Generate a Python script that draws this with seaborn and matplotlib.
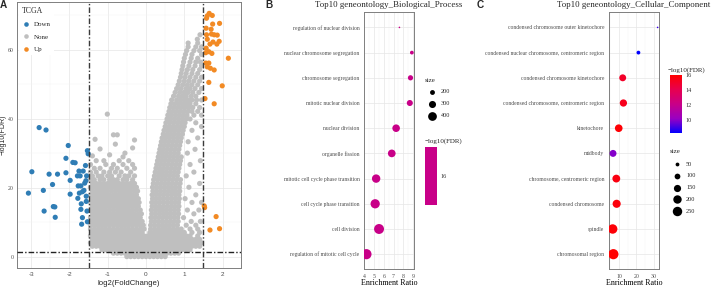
import numpy as np
import pandas as pd
import matplotlib
matplotlib.use("Agg")
import matplotlib.pyplot as plt
import seaborn as sns
from matplotlib.colors import LinearSegmentedColormap, ListedColormap, Normalize
from matplotlib.cm import ScalarMappable

# ---------------- panel A: volcano (TCGA) ----------------
down_pts = [(-2.79, 37.4), (-2.61, 36.7), (-2.03, 32.2), (-1.53, 30.7), (-1.51, 29.8),
            (-2.09, 28.5), (-1.91, 27.3), (-1.85, 27.2), (-2.98, 24.6), (-2.53, 23.9),
            (-2.31, 23.9), (-2.09, 24.3), (-1.75, 24.8), (-1.64, 24.8), (-1.98, 22.1),
            (-1.79, 23.4), (-1.72, 23.4), (-1.55, 23.4), (-2.44, 20.9), (-1.77, 20.5),
            (-1.70, 20.5), (-1.57, 22.0), (-2.68, 19.2), (-3.07, 18.4), (-1.98, 18.1),
            (-1.74, 18.4), (-1.66, 18.8), (-1.62, 19.2), (-1.78, 16.9), (-1.56, 17.5),
            (-2.42, 14.5), (-2.38, 14.4), (-1.69, 15.3), (-1.56, 16.0), (-2.66, 13.2),
            (-1.70, 13.7), (-1.54, 13.2), (-2.37, 11.4), (-1.66, 11.3), (-1.68, 9.4),
            (-1.53, 10.1), (-1.58, 26.4), (-1.60, 21.3)]

up_pts = [(1.65, 70.5), (1.60, 69.8), (1.73, 69.9), (1.58, 69.1), (1.74, 67.4), (1.92, 67.6),
          (1.57, 66.2), (1.70, 65.9), (1.58, 64.3), (1.71, 64.5), (1.78, 64.3), (1.86, 64.2),
          (1.60, 63.0), (1.75, 62.2), (1.91, 62.4), (1.67, 61.6), (1.85, 61.6), (1.57, 60.4),
          (1.56, 59.1), (1.64, 59.4), (1.72, 58.9), (2.15, 57.5), (1.56, 56.1), (1.64, 56.1),
          (1.60, 55.0), (1.68, 54.6), (1.78, 54.1), (1.64, 50.5), (1.99, 49.5), (1.54, 45.8),
          (1.78, 44.3), (1.52, 14.7), (1.53, 14.2), (1.83, 11.6), (1.67, 7.7), (1.92, 8.1)]

# non-significant genes, read row by row off the grey cloud (y, [x ...])
none_rows = [
    (0.0, [-0.5, -0.4, -0.3, -0.2, -0.1, 0.0, 0.1, 0.2, 0.3, 0.4, 0.5]),
    (1.0, [-0.85, -0.75, -0.65, -0.55, -0.45, -0.35, -0.25, -0.15, -0.05, 0.05, 0.15, 0.25,
           0.35, 0.45, 0.55, 0.65, 0.75, 0.85]),
    (2.0, [-1.15, -1.05, -0.95, -0.85, -0.75, -0.65, -0.55, -0.45, -0.35, -0.25, -0.15, -0.05,
           0.05, 0.15, 0.25, 0.35, 0.45, 0.55, 0.65, 0.75, 0.85, 0.95, 1.05, 1.15]),
    (3.0, [-1.4, -1.3, -1.2, -1.1, -1.0, -0.9, -0.8, -0.7, -0.6, -0.5, -0.4, -0.3, -0.2, -0.1,
           0.0, 0.1, 0.2, 0.3, 0.4, 0.5, 0.6, 0.7, 0.8, 0.9, 1.0, 1.1, 1.2, 1.3, 1.4]),
    (4.0, [-1.45, -1.35, -1.25, -1.15, -1.05, -0.95, -0.85, -0.75, -0.65, -0.55, -0.45, -0.35,
           -0.25, -0.15, -0.05, 0.05, 0.15, 0.25, 0.35, 0.45, 0.55, 0.65, 0.75, 0.85, 0.95,
           1.05, 1.15, 1.25, 1.35, 1.45]),
    (5.0, [-1.4, -1.3, -1.2, -1.1, -1.0, -0.9, -0.8, -0.7, -0.6, -0.5, -0.4, -0.3, -0.2, -0.1,
           0.0, 0.1, 0.2, 0.3, 0.4, 0.5, 0.6, 0.7, 0.8, 0.9, 1.0, 1.1, 1.2, 1.3, 1.4]),
    (6.0, [-1.45, -1.35, -1.25, -1.15, -1.05, -0.95, -0.85, -0.75, -0.65, -0.55, -0.45, -0.35,
           -0.25, -0.15, -0.05, 0.05, 0.15, 0.25, 0.35, 0.45, 0.55, 0.65, 0.75, 0.85, 0.95,
           1.05, 1.15, 1.35]),
    (7.0, [-1.4, -1.3, -1.2, -1.1, -1.0, -0.9, -0.8, -0.7, -0.6, -0.5, -0.4, -0.3, -0.2, -0.1,
           0.1, 0.2, 0.3, 0.4, 0.5, 0.6, 0.7, 0.8, 0.9, 1.0, 1.2, 1.4]),
    (8.0, [-1.45, -1.35, -1.25, -1.15, -1.05, -0.95, -0.85, -0.75, -0.65, -0.55, -0.45, -0.35,
           -0.25, -0.15, -0.05, 0.12, 0.22, 0.32, 0.42, 0.52, 0.62, 0.72, 0.82, 0.92, 1.15, 1.35]),
    (9.1, [-1.45, -1.35, -1.25, -1.15, -1.05, -0.95, -0.85, -0.75, -0.65, -0.55, -0.45, -0.35,
           -0.25, -0.15, -0.07, 0.12, 0.22, 0.32, 0.42, 0.52, 0.62, 0.72, 0.82, 1.05, 1.3]),
    (10.2, [-1.4, -1.3, -1.2, -1.1, -1.0, -0.9, -0.8, -0.7, -0.6, -0.5, -0.4, -0.3, -0.2, -0.1,
            0.14, 0.24, 0.34, 0.44, 0.54, 0.64, 0.74, 0.84, 1.18, 1.42]),
    (11.3, [-1.45, -1.35, -1.25, -1.15, -1.05, -0.95, -0.85, -0.75, -0.65, -0.55, -0.45, -0.35,
            -0.25, -0.15, 0.13, 0.23, 0.33, 0.43, 0.53, 0.63, 0.73, 0.83, 0.98]),
    (12.4, [-1.4, -1.3, -1.2, -1.1, -1.0, -0.9, -0.8, -0.7, -0.6, -0.5, -0.4, -0.3, -0.2, -0.12,
            0.15, 0.25, 0.35, 0.45, 0.55, 0.65, 0.75, 0.85, 1.25]),
    (13.5, [-1.45, -1.35, -1.25, -1.15, -1.05, -0.95, -0.85, -0.75, -0.65, -0.55, -0.45, -0.35,
            -0.25, -0.15, 0.14, 0.24, 0.34, 0.44, 0.54, 0.64, 0.74, 0.84, 1.08, 1.38]),
    (14.6, [-1.4, -1.3, -1.2, -1.1, -1.0, -0.9, -0.8, -0.7, -0.6, -0.5, -0.4, -0.3, -0.2,
            0.16, 0.26, 0.36, 0.46, 0.56, 0.66, 0.76, 0.86]),
    (15.7, [-1.45, -1.35, -1.25, -1.15, -1.05, -0.95, -0.85, -0.75, -0.65, -0.55, -0.45, -0.35,
            -0.25, -0.18, 0.15, 0.25, 0.35, 0.45, 0.55, 0.65, 0.75, 0.85, 1.2, 1.45]),
    (16.8, [-1.4, -1.3, -1.2, -1.1, -1.0, -0.9, -0.8, -0.7, -0.6, -0.5, -0.4, -0.3, -0.2,
            0.17, 0.27, 0.37, 0.47, 0.57, 0.67, 0.77, 0.87, 1.02]),
    (17.9, [-1.45, -1.35, -1.25, -1.15, -1.05, -0.95, -0.85, -0.75, -0.65, -0.55, -0.45, -0.35,
            -0.25, 0.16, 0.26, 0.36, 0.46, 0.56, 0.66, 0.76, 0.86, 1.3]),
    (19.0, [-1.4, -1.3, -1.2, -1.1, -1.0, -0.9, -0.8, -0.7, -0.6, -0.5, -0.4, -0.3, -0.22,
            0.18, 0.28, 0.38, 0.48, 0.58, 0.68, 0.78, 0.88]),
    (20.1, [-1.45, -1.35, -1.25, -1.15, -1.05, -0.95, -0.85, -0.75, -0.65, -0.55, -0.45, -0.35,
            -0.25, 0.17, 0.27, 0.37, 0.47, 0.57, 0.67, 0.77, 0.87, 1.12]),
    (21.2, [-1.4, -1.3, -1.2, -1.1, -1.0, -0.9, -0.8, -0.7, -0.6, -0.5, -0.4, -0.3,
            0.19, 0.29, 0.39, 0.49, 0.59, 0.69, 0.79, 0.89, 1.4]),
    (22.3, [-1.45, -1.35, -1.2, -1.1, -0.95, -0.85, -0.75, -0.6, -0.5, -0.35,
            0.2, 0.3, 0.4, 0.5, 0.6, 0.7, 0.8, 0.9]),
    (23.4, [-1.4, -1.25, -1.15, -1.0, -0.9, -0.7, -0.55, -0.45, -0.3,
            0.22, 0.32, 0.42, 0.52, 0.62, 0.72, 0.82, 1.05]),
    (24.5, [-1.45, -1.3, -1.1, -0.95, -0.8, -0.65, -0.4,
            0.24, 0.34, 0.44, 0.54, 0.64, 0.74, 0.84, 1.25]),
    (25.6, [-1.35, -1.2, -0.9, -0.75, -0.5, -0.3, 0.26, 0.36, 0.46, 0.56, 0.66, 0.76, 0.86]),
    (26.7, [-1.45, -1.05, -0.85, -0.6, -0.35, 0.28, 0.38, 0.48, 0.58, 0.68, 0.78, 0.88, 1.15]),
    (27.8, [-1.3, -1.1, -0.7, -0.45, 0.3, 0.4, 0.5, 0.6, 0.7, 0.8, 0.9, 1.42]),
    (28.9, [-0.6, 0.32, 0.42, 0.52, 0.62, 0.72, 0.82, 0.92]),
    (30.0, [0.34, 0.44, 0.54, 0.64, 0.74, 0.84, 1.08]),
    (31.1, [0.36, 0.46, 0.56, 0.66, 0.76, 0.86, 1.28]),
    (32.2, [0.38, 0.48, 0.58, 0.68, 0.78, 0.88]),
    (33.3, [0.4, 0.5, 0.6, 0.7, 0.8, 0.9, 1.1]),
    (34.4, [0.42, 0.52, 0.62, 0.72, 0.82, 0.92, 1.35]),
    (35.5, [0.45, 0.55, 0.65, 0.75, 0.85, 0.95]),
    (36.6, [0.47, 0.57, 0.67, 0.77, 0.87, 0.97, 1.2]),
    (37.7, [0.5, 0.6, 0.7, 0.8, 0.9, 1.0, 1.45]),
    (38.8, [0.52, 0.62, 0.72, 0.82, 0.92, 1.02, 1.3]),
    (39.9, [0.55, 0.65, 0.75, 0.85, 0.95, 1.05, 1.15]),
    (41.0, [0.57, 0.67, 0.77, 0.87, 0.97, 1.07, 1.25, 1.45]),
    (42.1, [0.6, 0.7, 0.8, 0.9, 1.0, 1.1, 1.2, 1.35]),
    (43.2, [0.62, 0.72, 0.82, 0.92, 1.02, 1.12, 1.22, 1.4]),
    (44.3, [0.65, 0.75, 0.85, 0.95, 1.05, 1.15, 1.3]),
    (45.4, [0.67, 0.8, 0.9, 1.0, 1.1, 1.2, 1.32, 1.45]),
    (46.5, [0.72, 0.85, 0.95, 1.05, 1.18, 1.3]),
    (47.6, [0.76, 0.88, 1.0, 1.1, 1.22, 1.38]),
    (48.7, [0.8, 0.92, 1.05, 1.15, 1.28, 1.45]),
    (49.8, [0.84, 0.96, 1.08, 1.2, 1.35]),
    (50.9, [0.87, 1.0, 1.12, 1.25, 1.4]),
    (52.0, [0.9, 1.02, 1.15, 1.3, 1.45]),
    (53.1, [0.92, 1.05, 1.2, 1.35]),
    (54.2, [0.94, 1.08, 1.22, 1.4]),
    (55.3, [0.96, 1.12, 1.28, 1.45]),
    (56.4, [0.98, 1.15, 1.3, 1.42]),
    (57.5, [1.0, 1.18, 1.35]),
    (58.6, [1.03, 1.2, 1.45]),
    (59.7, [1.06, 1.25, 1.4]),
    (60.8, [1.1, 1.3, 1.45]),
    (61.9, [1.1, 1.35]),
    (63.0, [1.34]),
    (64.3, [1.41]),
]
none_extra = [(-1.4, 29.2), (-0.95, 29.5), (-0.55, 30.0), (-1.2, 31.2), (-0.35, 31.5),
              (-0.8, 32.6), (-1.33, 34.0), (-0.85, 35.3), (-0.75, 35.3), (-1.01, 41.3),
              (-0.3, 33.8)]

tcga_colors = {"Down": "#2f7db5", "None": "#bfbfbf", "Up": "#f28a24"}
fc_cut = 1.5
fdr_line = 1.3

# ---------------- panel B: GO biological process ----------------
bp_terms = ["regulation of nuclear division", "nuclear chromosome segregation",
            "chromosome segregation", "mitotic nuclear division", "nuclear division",
            "organelle fission", "mitotic cell cycle phase transition",
            "cell cycle phase transition", "cell division", "regulation of mitotic cell cycle"]
bp_ratio = [7.6, 8.88, 8.74, 8.67, 7.26, 6.81, 5.2, 5.1, 5.5, 4.2]
bp_size = [120, 164, 214, 249, 328, 335, 378, 435, 486, 505]
bp_fdr = [16.0, 16.0, 16.0, 16.0, 16.0, 16.0, 16.0, 16.0, 16.0, 16.0]
bp_size_breaks = [200, 300, 400]

# ---------------- panel C: GO cellular component ----------------
cc_terms = ["condensed chromosome outer kinetochore",
            "condensed nuclear chromosome, centromeric region",
            "condensed chromosome kinetochore", "condensed chromosome, centromeric region",
            "kinetochore", "midbody", "chromosome, centromeric region",
            "condensed chromosome", "spindle", "chromosomal region"]
cc_ratio = [32.3, 21.2, 12.1, 12.5, 9.8, 6.5, 8.4, 8.6, 6.3, 6.7]
cc_size = [18, 50, 140, 153, 168, 140, 175, 188, 250, 290]
cc_fdr = [9.0, 8.2, 15.0, 15.3, 15.9, 9.9, 15.6, 15.7, 15.8, 16.0]
cc_size_breaks = [50, 100, 150, 200, 250]
cc_fdr_breaks = [10, 12, 14, 16]

# ---------------- style ----------------
SERIF = ["Liberation Serif", "DejaVu Serif"]
SANS = ["Liberation Sans", "DejaVu Sans"]
sns.set_theme(style="white")
plt.rcParams["font.family"] = SERIF
plt.rcParams["axes.unicode_minus"] = False

# ggplot-like blue -> red gradient (Lab interpolated stops)
br_cmap = LinearSegmentedColormap.from_list(
    "bluered", ["#0000FF", "#9900C2", "#C80088", "#E7004F", "#FF0000"])

W, H = 711, 287
fig = plt.figure(figsize=(W / 100, H / 100), dpi=100)


def box(l, t, r, b):
    return [l / W, 1 - b / H, (r - l) / W, (b - t) / H]


def style(ax):
    ax.set_facecolor("white")
    ax.set_axisbelow(True)
    for sp in ax.spines.values():
        sp.set_color("#7f7f7f")
        sp.set_linewidth(0.7)
    ax.grid(True, which="major", color="#e6e6e6", lw=0.5)
    ax.grid(True, which="minor", color="#f2f2f2", lw=0.3)
    ax.tick_params(which="major", length=2, width=0.5, color="#333333",
                   labelsize=4.2, labelcolor="#4d4d4d", pad=1.2)
    ax.tick_params(which="minor", length=0)


def dot_s(v, vmin, vmax, dmin=1.6, dmax=10.2):
    # linear area between the smallest and largest dot (pt^2)
    smin, smax = (dmin * 0.72) ** 2, (dmax * 0.72) ** 2
    return smin + (smax - smin) * (v - vmin) / (vmax - vmin)


# ---------------- panel A ----------------
none_x = [x for y, xs in none_rows for x in xs] + [p[0] for p in none_extra]
none_y = [y for y, xs in none_rows for x in xs] + [p[1] for p in none_extra]
volc = pd.concat([
    pd.DataFrame({"log2FC": none_x, "logFDR": none_y, "group": "None"}),
    pd.DataFrame({"log2FC": [p[0] for p in down_pts], "logFDR": [p[1] for p in down_pts], "group": "Down"}),
    pd.DataFrame({"log2FC": [p[0] for p in up_pts], "logFDR": [p[1] for p in up_pts], "group": "Up"}),
], ignore_index=True)

axA = fig.add_axes(box(17.3, 2, 241, 268))
style(axA)
sns.scatterplot(data=volc, x="log2FC", y="logFDR", hue="group", palette=tcga_colors,
                s=14, linewidth=0, legend=False, ax=axA, zorder=2)
dash = (0, (4, 1.5, 1, 1.5))
axA.axvline(-fc_cut, color="#3a3a3a", lw=1.0, ls=dash, zorder=3)
axA.axvline(fc_cut, color="#3a3a3a", lw=1.0, ls=dash, zorder=3)
axA.axhline(fdr_line, color="#222222", lw=1.0, ls=dash, zorder=3)
axA.set_xlim(-3.36, 2.48)
axA.set_ylim(-3.3, 73.8)
axA.set_xticks([-3, -2, -1, 0, 1, 2])
axA.set_xticks([-2.5, -1.5, -0.5, 0.5, 1.5], minor=True)
axA.set_yticks([0, 20, 40, 60])
axA.set_yticks([10, 30, 50, 70], minor=True)
axA.tick_params(axis="y", pad=0.8)
for lab in axA.get_xticklabels():
    lab.set_fontfamily(SANS)
    lab.set_fontsize(4.6)
axA.set_xlabel("log2(FoldChange)", family=SANS, fontsize=5.6, labelpad=1.5)
axA.set_ylabel("\u2212log10(FDR)", family=SANS, fontsize=5.0)
axA.yaxis.set_label_coords(-0.047, 0.5)

handles = [plt.Line2D([], [], ls="", marker="o", ms=3.3, mfc=tcga_colors[g], mec="none")
           for g in ["Down", "None", "Up"]]
leg = axA.legend(handles, ["Down", "None", "Up"], title="TCGA", loc="upper left",
                 bbox_to_anchor=(0.0, 1.0), frameon=True, fancybox=False, edgecolor="none",
                 facecolor="white", framealpha=1, fontsize=5, title_fontsize=5.6,
                 labelspacing=0.95, handletextpad=0.7, handlelength=1.0,
                 borderpad=0.45, borderaxespad=0.25)
leg._legend_box.align = "left"
leg.set_zorder(5)


# ---------------- dot plots ----------------
def dot_panel(rect, terms, ratio, size, fdr, cnorm, xlim, xmaj, xmin):
    ax = fig.add_axes(rect)
    style(ax)
    df = pd.DataFrame({"term": terms, "ratio": ratio, "size": size, "fdr": fdr})
    sns.scatterplot(data=df, x="ratio", y="term", size="size",
                    sizes=(dot_s(min(size), min(size), max(size)),
                           dot_s(max(size), min(size), max(size))),
                    size_norm=(min(size), max(size)), hue="fdr", palette=br_cmap,
                    hue_norm=cnorm, linewidth=0, legend=False, ax=ax, zorder=3)
    ax.set_xlim(*xlim)
    ax.set_ylim(len(terms) - 0.4, -0.6)
    ax.set_xticks(xmaj)
    ax.set_xticks(xmin, minor=True)
    ax.set_yticks(range(len(terms)))
    ax.set_yticklabels(terms, fontsize=4.1)
    ax.set_ylabel("")
    ax.set_xlabel("Enrichment Ratio", fontsize=5.8, color="black", labelpad=0.5)
    return ax


axB = dot_panel(box(364, 12.3, 413.7, 269.3), bp_terms, bp_ratio, bp_size, bp_fdr,
                Normalize(min(bp_fdr) - 1, max(bp_fdr) + 1), (3.95, 9.07),
                [4, 5, 6, 7, 8, 9], [4.5, 5.5, 6.5, 7.5, 8.5])
axC = dot_panel(box(608.7, 12.3, 659, 269.3), cc_terms, cc_ratio, cc_size, cc_fdr,
                Normalize(min(cc_fdr), max(cc_fdr)), (4.0, 33.1),
                [10, 20, 30], [5, 15, 25])

# colour bars
caxB = fig.add_axes(box(425.3, 146.7, 436.7, 205))
cbB = fig.colorbar(ScalarMappable(norm=Normalize(min(bp_fdr) - 1, max(bp_fdr) + 1),
                                  cmap=ListedColormap([br_cmap(0.5)])),
                   cax=caxB, ticks=[16])
caxC = fig.add_axes(box(670, 75, 682, 133.3))
cbC = fig.colorbar(ScalarMappable(norm=Normalize(min(cc_fdr), max(cc_fdr)), cmap=br_cmap),
                   cax=caxC, ticks=cc_fdr_breaks)
for cb in (cbB, cbC):
    cb.outline.set_visible(False)
    cb.ax.tick_params(length=2.2, width=0.6, color="white", direction="in",
                      labelsize=4.5, labelcolor="#333333", pad=2.5)

# overlay in pixel coordinates for titles and legends
ov = fig.add_axes([0, 0, 1, 1])
ov.set_xlim(0, W)
ov.set_ylim(H, 0)
ov.axis("off")

for letter, x in [("A", 3.5), ("B", 268.5), ("C", 480)]:
    ov.text(x, 5.5, letter, family=SANS, fontweight="bold", fontsize=7.2,
            ha="center", va="center")
ov.text(389, 5, "Top10 geneontology_Biological_Process", fontsize=6.4,
        ha="center", va="center")
ov.text(634, 5, "Top10 geneontology_Cellular_Component", fontsize=6.4,
        ha="center", va="center")

# size legends
ov.text(425, 80, "size", fontsize=5, ha="left", va="center")
for i, v in enumerate(bp_size_breaks):
    yy = 91.7 + 12 * i
    ov.scatter([432], [yy], s=dot_s(v, min(bp_size), max(bp_size)), color="black", linewidth=0)
    ov.text(440.5, yy, str(v), fontsize=4.5, ha="left", va="center")
ov.text(425, 140.7, "\u2212log10(FDR)", fontsize=5, ha="left", va="center")

ov.text(670, 151.7, "size", fontsize=5, ha="left", va="center")
for i, v in enumerate(cc_size_breaks):
    yy = 164 + 11.8 * i
    ov.scatter([677], [yy], s=dot_s(v, min(cc_size), max(cc_size)), color="black", linewidth=0)
    ov.text(686, yy, str(v), fontsize=4.5, ha="left", va="center")
ov.text(668, 70.5, "\u2212log10(FDR)", fontsize=5, ha="left", va="center")

fig.savefig("out.png", dpi=100)
